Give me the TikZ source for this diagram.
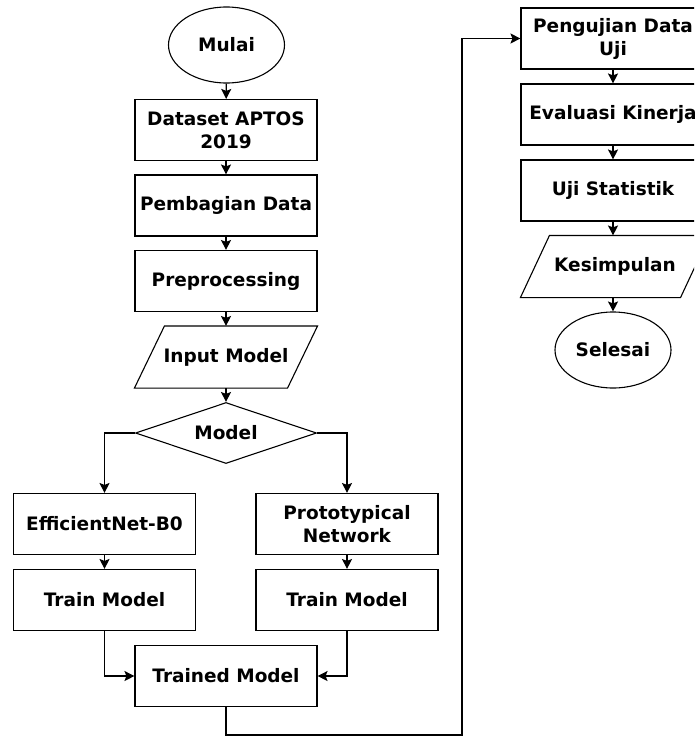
\documentclass[tikz,border=0pt]{standalone}
\usepackage{fontspec}
\setmainfont{DejaVu Sans}
\usetikzlibrary{arrows.meta, shapes.geometric, calc}
\tikzset{
  every picture/.style={font=\bfseries\fontsize{18.5}{23}\selectfont, line width=1.1pt},
  prosesbox/.style={draw, rectangle, align=center, minimum width=182, minimum height=61, inner sep=1pt},
  terminal/.style={draw, ellipse, minimum width=116, minimum height=76, inner sep=0pt},
  keputusan/.style={draw, diamond, aspect=3, minimum width=181, minimum height=61, inner sep=0pt},
  masukan/.style={rectangle, align=center, minimum width=182, minimum height=61, inner sep=0pt},
  panah/.style={-{Stealth[length=10pt, width=10pt, inset=2pt]}, draw=black},
}

\begin{document}
\begin{tikzpicture}[x=1pt, y=-1pt]
  \useasboundingbox (0,0) rectangle (694,736);
  \clip (0,0) rectangle (694,736);
  % left column
  \node[terminal] (mulai) at (226.5,45) {Mulai};
  \node[prosesbox] (dataset) at (226,130) {Dataset APTOS\\2019};
  \node[prosesbox] (bagi) at (226,205.5) {Pembagian Data};
  \node[prosesbox] (prep) at (226,281) {Preprocessing};
  \node[masukan] (input) at (226,357) {Input Model};
  \draw ($(input.south west)$) -- ($(input.north west)+(30,0)$) -- (input.north east) -- ($(input.south east)-(30,0)$) -- cycle;
  \node[keputusan] (model) at (226,433) {Model};
  \node[prosesbox] (eff) at (104.5,524) {EfficientNet-B0};
  \node[prosesbox] (proto) at (347,524) {Prototypical\\Network};
  \node[prosesbox] (trainL) at (104.5,600) {Train Model};
  \node[prosesbox] (trainR) at (347,600) {Train Model};
  \node[prosesbox] (trained) at (226,676) {Trained Model};
  % right column
  \node[prosesbox, minimum width=184] (uji) at (613,38.5) {Pengujian Data\\Uji};
  \node[prosesbox, minimum width=184] (eval) at (613,114.5) {Evaluasi Kinerja};
  \node[prosesbox, minimum width=184] (stat) at (613,190.5) {Uji Statistik};
  \node[masukan, minimum width=188] (simpul) at (615,266.5) {Kesimpulan};
  \draw ($(simpul.south west)$) -- ($(simpul.north west)+(29,0)$) -- (simpul.north east) -- ($(simpul.south east)-(29,0)$) -- cycle;
  \node[terminal] (selesai) at (613,350) {Selesai};
  \coordinate (putar) at (462,735);
  % connectors
  \draw[panah] (mulai) -- (dataset);
  \draw[panah] (dataset) -- (bagi);
  \draw[panah] (bagi) -- (prep);
  \draw[panah] (prep) -- (input);
  \draw[panah] (input) -- (model);
  \draw[panah] (model.west) -| (eff.north);
  \draw[panah] (model.east) -| (proto.north);
  \draw[panah] (eff) -- (trainL);
  \draw[panah] (proto) -- (trainR);
  \draw[panah] (trainL.south) |- (trained.west);
  \draw[panah] (trainR.south) |- (trained.east);
  \draw[panah] (trained.south) |- (putar) |- (uji.west);
  \draw[panah] (uji) -- (eval);
  \draw[panah] (eval) -- (stat);
  \draw[panah] (stat.south) -- (stat.south |- simpul.north);
  \draw[panah] (simpul.south -| selesai.north) -- (selesai.north);
\end{tikzpicture}
\end{document}
